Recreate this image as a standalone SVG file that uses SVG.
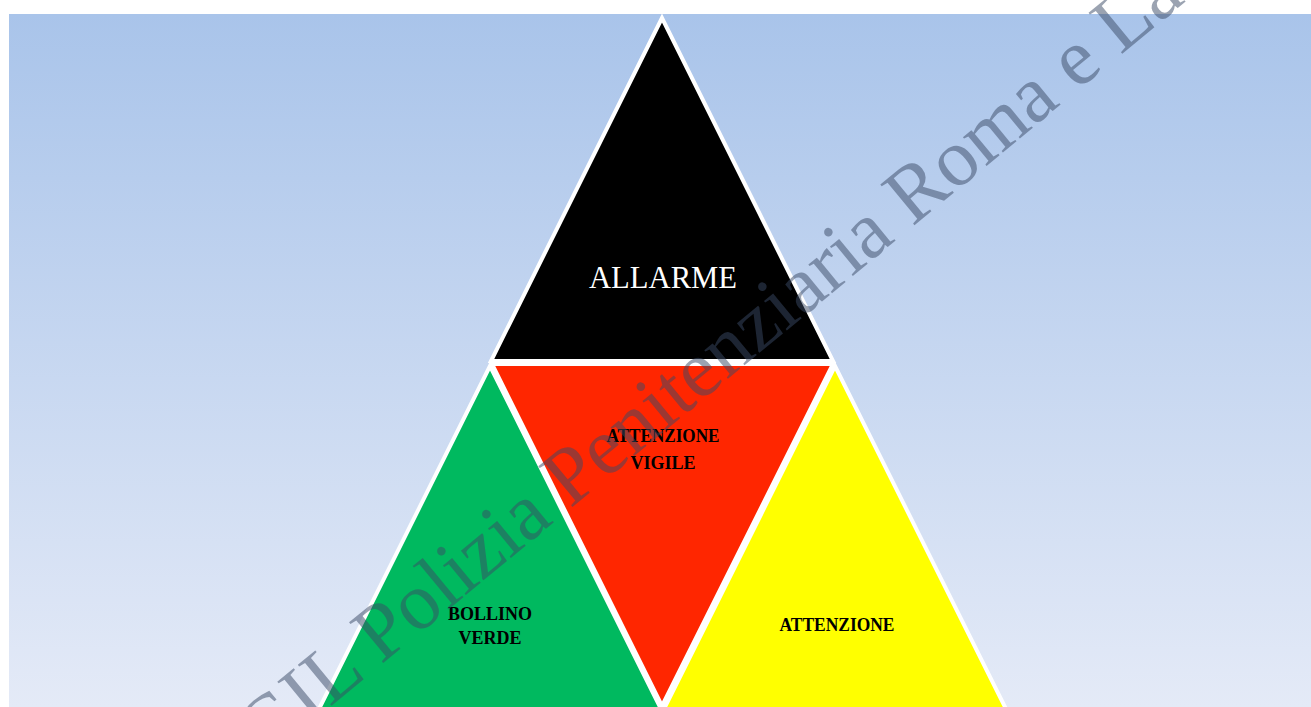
<svg xmlns="http://www.w3.org/2000/svg" width="1311" height="707" viewBox="0 0 1311 707">
<defs>
<linearGradient id="bg" x1="0" y1="14" x2="0" y2="707" gradientUnits="userSpaceOnUse">
<stop offset="0" stop-color="#a9c4ea"/>
<stop offset="1" stop-color="#e4eaf7"/>
</linearGradient>
</defs>
<style>
.tri{stroke:#ffffff;stroke-width:4;stroke-linejoin:miter}
.lbl{font-family:"Liberation Serif","DejaVu Serif",serif;font-weight:bold;font-size:18px;fill:#000;text-anchor:middle}
.big{font-family:"Liberation Serif","DejaVu Serif",serif;font-size:32px;fill:#fff;text-anchor:middle}
.wm{font-family:"Liberation Serif","DejaVu Serif",serif;font-size:81px;fill:#3a4a66;opacity:0.5}
</style>
<rect x="0" y="0" width="1311" height="707" fill="#ffffff"/>
<rect x="9" y="14" width="1302" height="693" fill="url(#bg)"/>
<g id="allarme">
<polygon class="tri" points="662,18 491,361 833,361" fill="#000000"/>
<text class="big" x="663" y="288" textLength="148" lengthAdjust="spacingAndGlyphs">ALLARME</text>
</g>
<g id="attenzione-vigile">
<polygon class="tri" points="492,364 833,364 662,706" fill="#ff2600"/>
<text class="lbl" x="663" y="442" textLength="113" lengthAdjust="spacingAndGlyphs">ATTENZIONE</text>
<text class="lbl" x="663" y="469">VIGILE</text>
</g>
<g id="bollino-verde">
<polygon class="tri" points="490,366 319,709 661,709" fill="#00b95f"/>
<text class="lbl" x="490" y="620">BOLLINO</text>
<text class="lbl" x="490" y="644">VERDE</text>
</g>
<g id="attenzione">
<polygon class="tri" points="835,366 664,709 1006,709" fill="#ffff00"/>
<text class="lbl" x="837" y="631" textLength="115" lengthAdjust="spacingAndGlyphs">ATTENZIONE</text>
</g>
<g id="connectors"></g>
<text class="wm" transform="translate(222,796) rotate(-39.5)">CGIL Polizia Penitenziaria Roma e Lazio</text>
</svg>
